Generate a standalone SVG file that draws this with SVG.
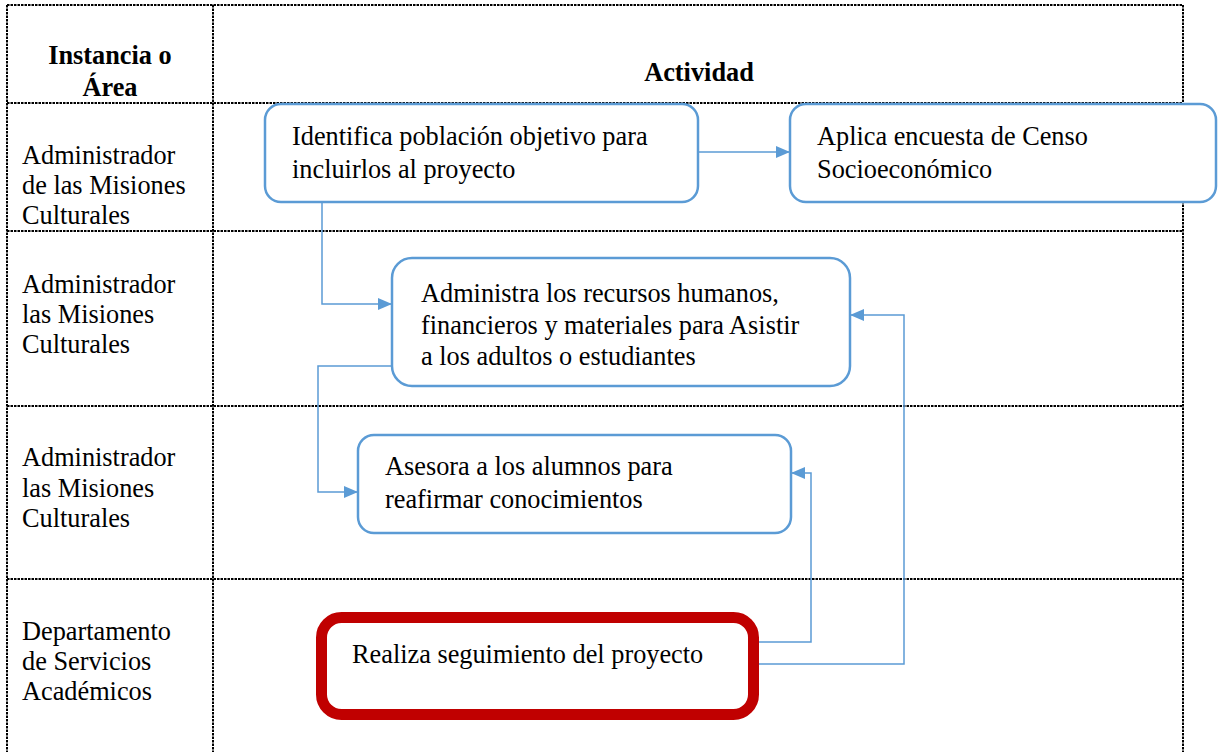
<svg xmlns="http://www.w3.org/2000/svg" width="1218" height="752" viewBox="0 0 1218 752">
<style>
.grid{stroke:#000;stroke-width:2;stroke-dasharray:2.5 1;fill:none}
.box{fill:#fff;stroke:#5B9BD5;stroke-width:2.5}
.red{fill:#fff;stroke:#C00000;stroke-width:11}
.con{fill:none;stroke:#5B9BD5;stroke-width:1.5}
text{font-family:"Liberation Serif","Times New Roman",serif;font-size:26.3px;fill:#000}
.b{font-weight:bold}
</style>
<defs>
<marker id="ah" markerWidth="14" markerHeight="12" refX="14" refY="6" orient="auto" markerUnits="userSpaceOnUse">
<path d="M0,0 L14,6 L0,12 Z" fill="#5B9BD5"/>
</marker>
</defs>
<rect width="1218" height="752" fill="#fff"/>
<g id="table">
<line class="grid" x1="7" y1="5" x2="1183" y2="5"/>
<line class="grid" x1="7" y1="103" x2="1183" y2="103"/>
<line class="grid" x1="7" y1="231" x2="1183" y2="231"/>
<line class="grid" x1="7" y1="406" x2="1183" y2="406"/>
<line class="grid" x1="7" y1="579" x2="1183" y2="579"/>
<line class="grid" x1="7" y1="5" x2="7" y2="752"/>
<line class="grid" x1="213" y1="5" x2="213" y2="752"/>
<line class="grid" x1="1183" y1="5" x2="1183" y2="752"/>
<text class="b" x="110" y="64" text-anchor="middle">Instancia o</text>
<text class="b" x="110" y="96" text-anchor="middle">Área</text>
<text class="b" x="699" y="81" text-anchor="middle">Actividad</text>
<text x="22" y="164">Administrador</text>
<text x="22" y="194">de las Misiones</text>
<text x="22" y="224">Culturales</text>
<text x="22" y="293">Administrador</text>
<text x="22" y="323">las Misiones</text>
<text x="22" y="353">Culturales</text>
<text x="22" y="466">Administrador</text>
<text x="22" y="497">las Misiones</text>
<text x="22" y="527">Culturales</text>
<text x="22" y="640">Departamento</text>
<text x="22" y="670">de Servicios</text>
<text x="22" y="700">Académicos</text>
</g>
<g id="connectors">
<path class="con" d="M698,152 H790" marker-end="url(#ah)"/>
<path class="con" d="M322,203 V304 H392" marker-end="url(#ah)"/>
<path class="con" d="M392,366 H318 V492 H358" marker-end="url(#ah)"/>
<path class="con" d="M753,642 H811 V473 H791" marker-end="url(#ah)"/>
<path class="con" d="M753,664 H904 V315 H850" marker-end="url(#ah)"/>
</g>
<g id="n1">
<rect class="box" x="265" y="104" width="433" height="98" rx="16"/>
<text x="292" y="145">Identifica población objetivo para</text>
<text x="292" y="178">incluirlos al proyecto</text>
</g>
<g id="n2">
<rect class="box" x="790" y="104" width="426" height="98" rx="16"/>
<text x="817" y="145">Aplica encuesta de Censo</text>
<text x="817" y="178">Socioeconómico</text>
</g>
<g id="n3">
<rect class="box" x="392" y="258" width="458" height="128" rx="20"/>
<text x="421" y="302">Administra los recursos humanos,</text>
<text x="421" y="334">financieros y materiales para Asistir</text>
<text x="421" y="365">a los adultos o estudiantes</text>
</g>
<g id="n4">
<rect class="box" x="358" y="435" width="433" height="98" rx="16"/>
<text x="385" y="475">Asesora a los alumnos para</text>
<text x="385" y="508">reafirmar conocimientos</text>
</g>
<g id="n5">
<rect class="red" x="321.5" y="617.5" width="432" height="97" rx="20"/>
<text x="352" y="663">Realiza seguimiento del proyecto</text>
</g>
</svg>
